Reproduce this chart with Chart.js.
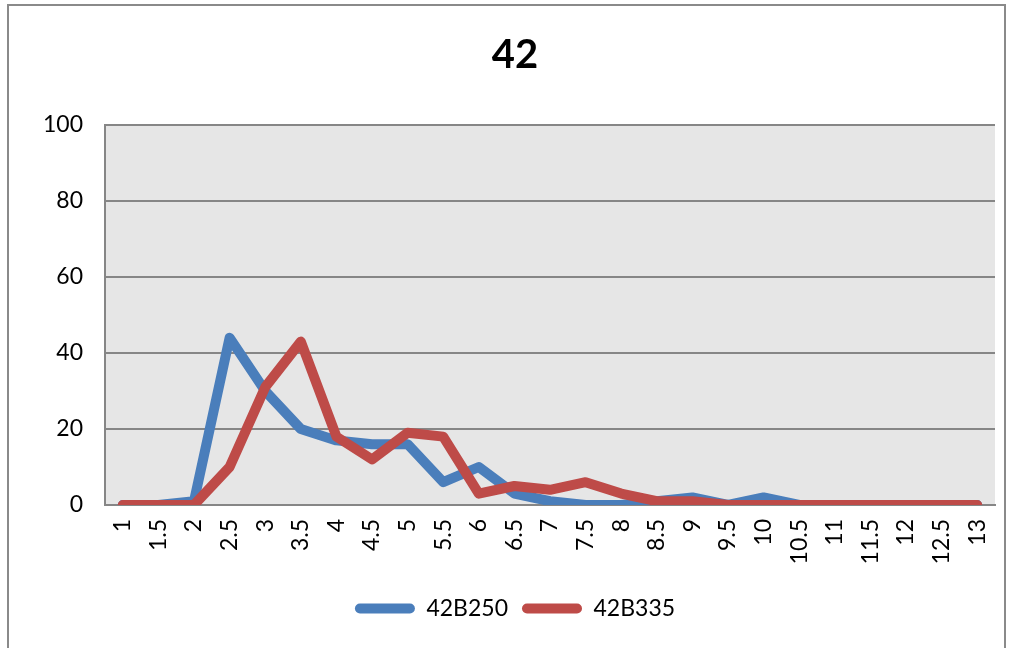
<!DOCTYPE html>
<html>
<head>
<meta charset="utf-8">
<script src="https://cdn.jsdelivr.net/npm/chart.js@4"></script>
<style>
  html, body { margin: 0; padding: 0; background: #fff; overflow: hidden; }
  #frame {
    position: absolute; left: 7px; top: 4px; width: 999px; height: 660px;
    border: 2px solid #8a8a8a; box-sizing: border-box;
  }
  #wrap { position: absolute; left: 0; top: 0; width: 1009px; height: 648px; }
</style>
</head>
<body>
<div id="frame"></div>
<div id="wrap"><canvas id="chart"></canvas></div>
<script>
// categorias do eixo x
const categories = ['1', '1.5', '2', '2.5', '3', '3.5', '4', '4.5', '5', '5.5', '6', '6.5', '7',
  '7.5', '8', '8.5', '9', '9.5', '10', '10.5', '11', '11.5', '12', '12.5', '13'];
// séries
const serieB250 = [0, 0, 1, 44, 30, 20, 17, 16, 16, 6, 10, 3, 1, 0, 0, 1, 2, 0, 2, 0, 0, 0, 0, 0, 0];
const serieB335 = [0, 0, 0, 10, 31, 43, 18, 12, 19, 18, 3, 5, 4, 6, 3, 1, 1, 0, 0, 0, 0, 0, 0, 0, 0];
const yTicks = [0, 20, 40, 60, 80, 100];

const FONT = 'Lato, "Open Sans", sans-serif';

// fundo cinza da área do gráfico
const plotBackground = {
  id: 'plotBackground',
  beforeDraw(chart) {
    const { ctx, chartArea } = chart;
    ctx.save();
    ctx.fillStyle = '#e6e6e6';
    ctx.fillRect(chartArea.left, chartArea.top, chartArea.right - chartArea.left, chartArea.bottom - chartArea.top);
    ctx.restore();
  }
};

const ctx = document.getElementById('chart').getContext('2d');
const chart = new Chart(ctx, {
  type: 'line',
  data: {
    labels: categories,
    datasets: [
      { label: '42B250', data: serieB250, borderColor: '#4a7ebb', backgroundColor: '#4a7ebb', order: 1 },
      { label: '42B335', data: serieB335, borderColor: '#be4b48', backgroundColor: '#be4b48', order: 0 }
    ]
  },
  options: {
    responsive: true,
    maintainAspectRatio: false,
    animation: false,
    layout: { padding: { left: 35, right: 14, top: 0, bottom: 18 } },
    elements: {
      line: { borderWidth: 10, tension: 0, borderCapStyle: 'round', borderJoinStyle: 'round' },
      point: { radius: 0, hoverRadius: 0 }
    },
    scales: {
      x: {
        offset: true,
        grid: { display: false, drawTicks: false },
        border: { display: true, color: '#868686', width: 2 },
        ticks: {
          color: '#000', font: { family: FONT, size: 23 },
          minRotation: 90, maxRotation: 90, autoSkip: false, padding: 14
        },
        afterFit(scale) {
          scale.height = 78;
          scale.paddingLeft = 0;
          scale.paddingRight = 0;
        }
      },
      y: {
        min: 0, max: 100,
        afterBuildTicks(scale) { scale.ticks = yTicks.map(v => ({ value: v })); },
        grid: { color: '#868686', lineWidth: 2, drawTicks: false },
        border: { display: true, color: '#868686', width: 2 },
        ticks: { color: '#000', font: { family: FONT, size: 23 }, padding: 22 },
        afterFit(scale) { scale.width = 70; }
      }
    },
    plugins: {
      title: {
        display: true, text: '42', color: '#000',
        font: { family: FONT, size: 40, weight: 'bold' },
        padding: { top: 31, bottom: 46 }
      },
      legend: {
        position: 'bottom',
        labels: {
          color: '#000', font: { family: FONT, size: 23 },
          boxWidth: 60, boxHeight: 10, padding: 14,
          useBorderRadius: true, borderRadius: 5,
          generateLabels(chart) {
            return chart.data.datasets.map((ds, i) => ({
              text: ds.label, fillStyle: ds.borderColor, strokeStyle: ds.borderColor,
              lineWidth: 0, datasetIndex: i, hidden: false, borderRadius: 5
            }));
          }
        }
      },
      tooltip: { enabled: false }
    }
  },
  plugins: [plotBackground]
});
</script>
</body>
</html>
